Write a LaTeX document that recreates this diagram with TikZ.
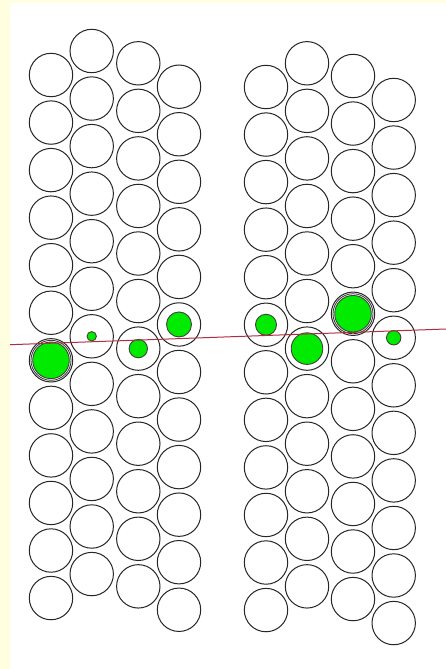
\documentclass[tikz,border=0pt]{standalone}
\definecolor{bgyellow}{RGB}{255,255,224}
\definecolor{incl}{RGB}{0,235,0}
\definecolor{cutred}{RGB}{175,45,65}
\begin{document}
\begin{tikzpicture}[x=1pt,y=-1pt,
  ball/.style={circle,draw=black!85,line width=1pt,fill=white,inner sep=0pt,minimum size=43.4pt},
  dot/.style={circle,draw=black!75,line width=0.9pt,fill=incl,inner sep=0pt},
  ring/.style={circle,draw=black!80,line width=0.8pt,inner sep=0pt,minimum size=40pt},
  cut/.style={draw=cutred,line width=1pt}]
\useasboundingbox (0,0) rectangle (446,669);
\fill[bgyellow] (0,0) rectangle (446,669);
\fill[white] (10,3) rectangle (446,669);
% left group
\foreach \c/\x/\y in {1/51/75, 2/91.7/51, 3/138.3/63.3, 4/179/86.7}{
  \foreach \i in {0,...,11}{
    \node[ball] (L\c-\i) at (\x,\y+47.55*\i) {};
  }
}
% right group
\foreach \c/\x/\y in {1/266/87, 2/307/63.3, 3/353/76, 4/393.7/100}{
  \foreach \i in {0,...,11}{
    \node[ball] (R\c-\i) at (\x,\y+47.55*\i) {};
  }
}
% inclusions
\node[ring] (L1r) at (L1-6) {};
\node[dot,minimum size=36.6pt] (L1g) at (L1-6) {};
\node[dot,minimum size=9.4pt] (L2g) at (L2-6) {};
\node[dot,minimum size=18.4pt] (L3g) at (L3-6) {};
\node[dot,minimum size=25pt] (L4g) at (L4-5) {};
\node[dot,minimum size=21pt] (R1g) at (R1-5) {};
\node[dot,minimum size=31.6pt] (R2g) at (R2-6) {};
\node[ring] (R3r) at (R3-5) {};
\node[dot,minimum size=36.6pt] (R3g) at (R3-5) {};
\node[dot,minimum size=14.4pt] (R4g) at (R4-5) {};
% section line
\coordinate (ls) at (10,344.7);
\coordinate (le) at (446,329);
\draw[cut] (ls) -- (le);
\end{tikzpicture}
\end{document}
